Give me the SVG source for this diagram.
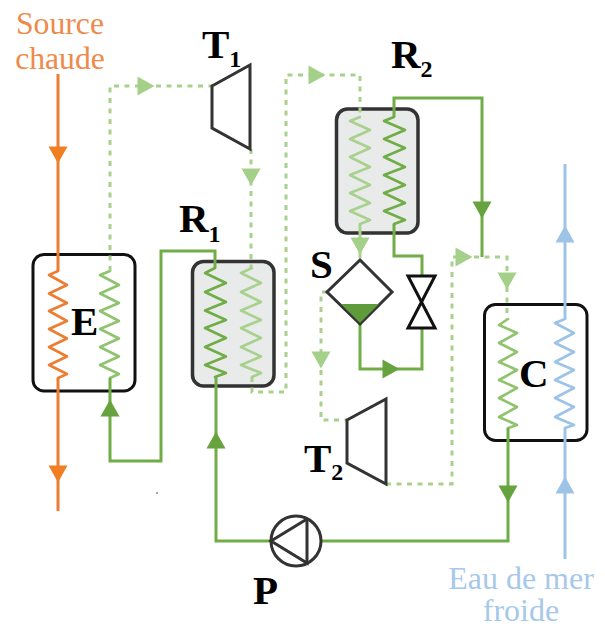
<svg xmlns="http://www.w3.org/2000/svg" xmlns:xlink="http://www.w3.org/1999/xlink" width="605" height="629" viewBox="0 0 605 629">
<style>
.l{fill:none;stroke-linejoin:miter}
.c{fill:none;stroke-linejoin:round;stroke-linecap:round;stroke-width:2.600}
.or{stroke:#ed7d31}
.bl{stroke:#9dc3e6}
.dg{stroke:#70ad47}
.lg{stroke:#a9d18e}
.mg{stroke:#8fc36d}
.w{stroke-width:3}
.dash{stroke:#a9d18e;stroke-width:3;stroke-dasharray:5 5.500}
.box{fill:#fff;stroke:#111;stroke-width:3}
.gbox{fill:#e9ebeb;stroke:#333;stroke-width:3.500}
.mach{fill:#fff;stroke:#333;stroke-width:3;stroke-linejoin:miter}
.fo{fill:#ef7f22}.fb{fill:#9dc3e6}.fd{fill:#66a23e}.fl{fill:#a5d089}
text{font-family:"Liberation Serif","Times New Roman",serif}
.b{font-weight:bold;font-size:41px;fill:#000}
.s{font-size:24px}
.to{font-size:31.700px;fill:#ee8a4a;text-anchor:middle}
.tb{font-size:32px;fill:#a6c9ea;text-anchor:middle}
</style>
<defs><polygon id="ah" points="-9.500,-8.500 9.500,-8.500 0,8.500"/></defs>

<g id="E"><rect class="box" x="33" y="254.500" width="102" height="136.500" rx="11"/>
<polyline class="c or" points="58,271 49,275 67,285 49,293.500 67,303 49,311 67,321 49,329 67,338.500 49,347 67,356.500 49,365 67,374 58,378"/>
<polyline class="c mg" points="110,271 100,275 119,285 100,293.500 119,303 100,311 119,321 100,329 119,338.500 100,347 119,356.500 100,365 119,374 110,378"/>
<text class="b" x="71" y="335">E</text></g>

<g id="R1"><rect class="gbox" x="192.500" y="261.500" width="81.500" height="124.500" rx="11"/>
<polyline class="c dg" points="215,268 205,273 226,283 205,292 226,302 205,310.500 226,320 205,328 226,338 205,347 226,356.500 205,365 226,373 215,377"/>
<polyline class="c lg" points="252,268 241,273 261,283 241,292 261,302 241,310.500 261,320 241,328 261,338 241,347 261,356.500 241,365 261,373 252,377"/>
<text class="b" x="179" y="232">R<tspan class="s" dy="10">1</tspan></text></g>

<g id="R2"><rect class="gbox" x="336.500" y="109" width="81.500" height="124" rx="11"/>
<polyline class="c lg" points="360,117 350,121 370,130 350,139 370,148 350,157 370,167 350,175 370,185 350,193 370,203 350,211 370,220 360,224"/>
<polyline class="c dg" points="394,117 384,121 405,130 384,139 405,148 384,157 405,167 384,175 405,185 384,193 405,203 384,211 405,220 394,224"/>
<text class="b" x="391" y="68">R<tspan class="s" dy="9">2</tspan></text></g>

<g id="C"><rect class="box" x="484.500" y="304.500" width="102.500" height="136" rx="11"/>
<polyline class="c mg" points="508,319 499,325 517,333 499,343 517,352 499,362 517,370 499,380 517,388 499,398 517,407 499,417 517,425 508,428"/>
<polyline class="c bl" points="565,319 555,323 574,333 555,343 574,352 555,362 574,370 555,380 574,388 555,398 574,407 555,417 574,425 565,428"/>
<text class="b" x="519" y="387">C</text></g>

<g id="connectors">
<polyline class="l w or" points="58,74 58,271"/>
<polyline class="l w or" points="58,378 58,511"/>
<polyline class="l w bl" points="565,164 565,319"/>
<polyline class="l w bl" points="565,428 565,559"/>
<polyline class="l dash" points="110,271 110,86 212,86"/>
<polyline class="l dash" points="251,149 251,268"/>
<polyline class="l dash" points="252,377 252,392 286,392 286,75 360,75 360,117"/>
<polyline class="l w lg" points="360,224 360,258"/>
<polyline class="l dash" points="327,292 321,292 321,420 347,420"/>
<polyline class="l dash" points="386,484 452,484 452,257 507,257 507,319"/>
<polyline class="l w dg" points="394,117 394,98 482,98 482,257"/>
<polyline class="l w dg" points="394,224 394,256 422,256 422,276"/>
<polyline class="l w dg" points="360,324 360,369 422,369 422,328"/>
<polyline class="l w dg" points="508,428 508,541 322,541"/>
<polyline class="l w dg" points="270,541 216,541 216,377"/>
<polyline class="l w dg" points="110,378 110,461 161,461 161,251 215,251 215,268"/>
<use xlink:href="#ah" class="fo" transform="translate(58,155)"/>
<use xlink:href="#ah" class="fo" transform="translate(58,474)"/>
<use xlink:href="#ah" class="fb" transform="translate(565,234) rotate(180)"/>
<use xlink:href="#ah" class="fb" transform="translate(565,485) rotate(180)"/>
<use xlink:href="#ah" class="fl" transform="translate(146,86) rotate(-90)"/>
<use xlink:href="#ah" class="fl" transform="translate(251,177)"/>
<use xlink:href="#ah" class="fl" transform="translate(317,75) rotate(-90)"/>
<use xlink:href="#ah" class="fl" transform="translate(360,246)"/>
<use xlink:href="#ah" class="fl" transform="translate(321,360)"/>
<use xlink:href="#ah" class="fl" transform="translate(464,257) rotate(-90)"/>
<use xlink:href="#ah" class="fl" transform="translate(507,281)"/>
<use xlink:href="#ah" class="fd" transform="translate(482,210)"/>
<use xlink:href="#ah" class="fd" transform="translate(391,369) rotate(-90)"/>
<use xlink:href="#ah" class="fd" transform="translate(508,494)"/>
<use xlink:href="#ah" class="fd" transform="translate(216,440) rotate(180)"/>
<use xlink:href="#ah" class="fd" transform="translate(110,408) rotate(180)"/>
</g>

<g id="T1"><polygon class="mach" points="212,86 250,65 250,149 212,128"/>
<text class="b" x="202" y="58">T<tspan class="s" dy="9">1</tspan></text></g>
<g id="T2"><polygon class="mach" points="347,420 386,399 386,484 347,463"/>
<text class="b" x="304" y="472">T<tspan class="s" dy="8">2</tspan></text></g>
<g id="S"><polygon class="mach" points="360,260 392,292 360,324 327,292"/>
<polygon fill="#5f9b3a" points="341,304 379,304 360,323"/>
<text class="b" x="310" y="278">S</text></g>
<g id="V"><polygon fill="#fff" stroke="#111" stroke-width="3" points="408,276 435,276 408,328 435,328"/></g>
<g id="P"><circle cx="296" cy="541" r="25" fill="#fff" stroke="#333" stroke-width="3"/>
<polyline class="l" stroke="#333" stroke-width="3" points="307,519 271,541 307,563 307,519"/>
<text class="b" x="253" y="604">P</text></g>
<g id="source"><text class="to" x="60" y="34">Source</text><text class="to" x="60" y="69">chaude</text></g>
<g id="sink"><text class="tb"><tspan x="521" y="589">Eau de mer</tspan><tspan x="521" y="621">froide</tspan></text></g>
<circle cx="157" cy="493" r="1" fill="#888"/>
</svg>
